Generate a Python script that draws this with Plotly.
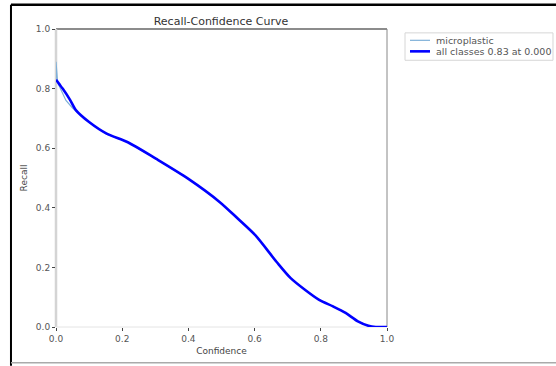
import plotly.graph_objects as go

# Recall vs. confidence for the single class and the smoothed all-classes curve
conf_all = [0.0, 0.01, 0.02, 0.042, 0.06, 0.1, 0.153, 0.217, 0.303, 0.4, 0.495,
            0.549, 0.602, 0.666, 0.709, 0.752, 0.795, 0.837, 0.875, 0.912,
            0.944, 0.966, 1.0]
recall_all = [0.83, 0.815, 0.80, 0.763, 0.728, 0.688, 0.649, 0.62, 0.564, 0.497,
              0.419, 0.364, 0.308, 0.219, 0.164, 0.125, 0.091, 0.069, 0.047,
              0.019, 0.004, 0.0, 0.0]

conf_cls = [0.0, 0.0, 0.005, 0.03, 0.05, 0.065, 0.1, 0.153, 0.217, 0.303, 0.4,
            0.495, 0.549, 0.602, 0.666, 0.709, 0.752, 0.795, 0.837, 0.875,
            0.912, 0.944, 0.966, 1.0]
recall_cls = [0.83, 0.89, 0.82, 0.76, 0.735, 0.72, 0.686, 0.647, 0.62, 0.564,
              0.497, 0.419, 0.364, 0.308, 0.219, 0.164, 0.125, 0.091, 0.069,
              0.047, 0.019, 0.004, 0.0, 0.0]

series_names = ["microplastic", "all classes 0.83 at 0.000"]
series_colors = ["#7fb0d8", "#0000ff"]
series_widths = [1.2, 2.6]

ticks = [0.0, 0.2, 0.4, 0.6, 0.8, 1.0]
tick_text = ["0.0", "0.2", "0.4", "0.6", "0.8", "1.0"]

FONT = "DejaVu Sans"

fig = go.Figure()
fig.add_trace(go.Scatter(
    x=conf_cls, y=recall_cls, mode="lines", name=series_names[0],
    line=dict(color=series_colors[0], width=series_widths[0]),
))
fig.add_trace(go.Scatter(
    x=conf_all, y=recall_all, mode="lines", name=series_names[1],
    line=dict(color=series_colors[1], width=series_widths[1],
              shape="spline", smoothing=0.8),
))

axis_common = dict(
    range=[0, 1], tickvals=ticks, ticktext=tick_text,
    showgrid=False, zeroline=False, showline=False,
    ticks="outside", ticklen=3, tickcolor="#444", tickwidth=1,
    tickfont=dict(family=FONT, size=9, color="#555"),
)

fig.update_layout(
    width=556, height=366,
    margin=dict(l=56, r=169, t=29, b=37),
    paper_bgcolor="white", plot_bgcolor="white",
    title=dict(text="Recall-Confidence Curve", x=0.3975, xanchor="center",
               y=1 - 21 / 366, yanchor="middle",
               font=dict(family=FONT, size=11, color="#333")),
    xaxis=dict(**axis_common,
               title=dict(text="Confidence", standoff=4,
                          font=dict(family=FONT, size=9, color="#444"))),
    yaxis=dict(**axis_common,
               title=dict(text="Recall", standoff=6,
                          font=dict(family=FONT, size=9, color="#444"))),
    showlegend=False,
)

# Axes frame: dark top/right spines, light left/bottom spines
spines = [
    dict(x0=0, x1=1, y0=1, y1=1, color="#666", width=1.5),
    dict(x0=1, x1=1, y0=0, y1=1, color="#888", width=1),
    dict(x0=0, x1=0, y0=0, y1=1, color="#d4d4d4", width=2.5),
    dict(x0=0, x1=1, y0=0, y1=0, color="#e4e4e4", width=1),
]
for s in spines:
    fig.add_shape(type="line", xref="paper", yref="paper",
                  x0=s["x0"], x1=s["x1"], y0=s["y0"], y1=s["y1"],
                  line=dict(color=s["color"], width=s["width"]), layer="below")

# Compact legend box to the right of the axes
fig.add_shape(type="rect", xref="paper", yref="paper",
              x0=1.0544, x1=1.5015, y0=0.895, y1=0.987,
              line=dict(color="#d6d6d6", width=1), fillcolor="white")
legend_rows = [0.962, 0.925]
for name, color, width, yrow in zip(series_names, series_colors,
                                    series_widths, legend_rows):
    fig.add_shape(type="line", xref="paper", yref="paper",
                  x0=1.0695, x1=1.13, y0=yrow, y1=yrow,
                  line=dict(color=color, width=width))
    fig.add_annotation(xref="paper", yref="paper", x=1.142, y=yrow,
                       xanchor="left", yanchor="middle", showarrow=False,
                       text=name, font=dict(family=FONT, size=9.5, color="#555"))

# Outer frame of the figure image
frame = [
    dict(x0=-0.136, x1=-0.136, y0=-0.13, y1=1.0817, color="black", width=2),
    dict(x0=-0.136, x1=1.52, y0=1.0817, y1=1.0817, color="black", width=2.5),
    dict(x0=-0.136, x1=1.52, y0=-0.12, y1=-0.12, color="#aaa", width=1.5),
]
for s in frame:
    fig.add_shape(type="line", xref="paper", yref="paper",
                  x0=s["x0"], x1=s["x1"], y0=s["y0"], y1=s["y1"],
                  line=dict(color=s["color"], width=s["width"]))

fig.write_html("out.html")
